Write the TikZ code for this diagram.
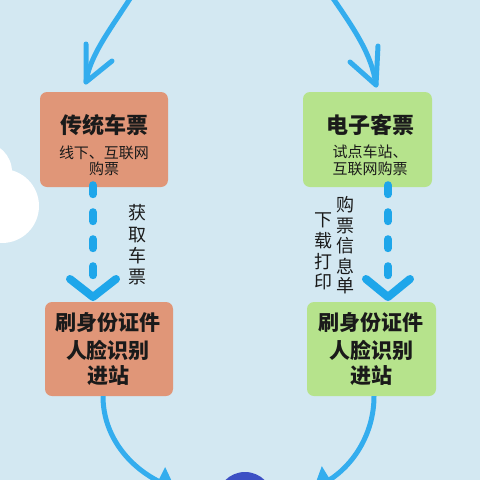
\documentclass[tikz,border=0pt]{standalone}
\usepackage{fontspec}
\newfontfamily\cjk{Noto Sans CJK SC}
\usetikzlibrary{arrows.meta}
\definecolor{bgc}{HTML}{D3E8F2}
\definecolor{salmon}{HTML}{E09678}
\definecolor{lgreen}{HTML}{B6E38C}
\definecolor{arr}{HTML}{33ADEE}
\definecolor{dash}{HTML}{1EA6EA}
\definecolor{dblue}{HTML}{3C50C4}
\definecolor{txt}{HTML}{1A1A1A}
\tikzset{
  box/.style={rounded corners=7pt, inner sep=0pt, draw=none},
  title/.style={font=\cjk\bfseries\fontsize{22}{24}\selectfont, text=txt, inner sep=0pt},
  sub/.style={font=\cjk\fontsize{15}{17}\selectfont, text=txt, inner sep=0pt},
  big/.style={font=\cjk\bfseries\fontsize{21}{23}\selectfont, text=txt, inner sep=0pt},
  vlab/.style={font=\cjk\fontsize{18}{20}\selectfont, text=txt, inner sep=0pt},
  curvearr/.style={draw=arr, line width=5pt, line cap=round},
  chev/.style={draw=arr, line width=5pt, line cap=round, line join=round},
  dashline/.style={draw=dash, line width=8pt, line cap=round, dash pattern=on 9pt off 18pt},
  dchev/.style={draw=dash, line width=8pt, line cap=round, line join=round},
  bottomarr/.style={draw=arr, line width=5pt, -{Triangle[length=20pt,width=30pt]}}
}
\begin{document}
\begin{tikzpicture}[x=1pt,y=-1pt]
\fill[bgc] (0,0) rectangle (480,480);
\useasboundingbox (0,0) rectangle (480,480);
\begin{scope}
\clip (0,0) rectangle (480,480);
% cloud
\fill[white] (-18,172) circle[radius=30];
\fill[white] (2,206) circle[radius=37];
\fill[white] (-20,215) circle[radius=30];
% boxes
\node[box, fill=salmon, minimum width=128pt, minimum height=95pt] (b1) at (104,139.5) {};
\node[box, fill=lgreen, minimum width=129pt, minimum height=95pt] (b2) at (367.5,139.5) {};
\node[box, fill=salmon, minimum width=128pt, minimum height=94pt] (b3) at (109,349) {};
\node[box, fill=lgreen, minimum width=129pt, minimum height=94pt] (b4) at (371.5,349) {};
% texts
\node[title] (t1) at (104,125) {传统车票};
\node[sub] (s1a) at (104,153) {线下、互联网};
\node[sub] (s1b) at (104,169) {购票};
\node[title] (t2) at (370,125) {电子客票};
\node[sub] (s2a) at (370,152) {试点车站、};
\node[sub] (s2b) at (370,169) {互联网购票};
\node[big] (t3a) at (108,323) {刷身份证件};
\node[big] (t3b) at (108,350) {人脸识别};
\node[big] (t3c) at (108,376) {进站};
\node[big] (t4a) at (371,323) {刷身份证件};
\node[big] (t4b) at (371,350) {人脸识别};
\node[big] (t4c) at (371,376) {进站};
% vertical labels
\node[vlab] (l1) at (137,213) {获};
\node[vlab] (l2) at (137,235) {取};
\node[vlab] (l3) at (137,256) {车};
\node[vlab] (l4) at (137,277) {票};
\node[vlab] (r1) at (345,205) {购};
\node[vlab] (r2) at (345,226) {票};
\node[vlab] (r3) at (345,246) {信};
\node[vlab] (r4) at (345,266) {息};
\node[vlab] (r5) at (345,286) {单};
\node[vlab] (q1) at (323,220) {下};
\node[vlab] (q2) at (323,241) {载};
\node[vlab] (q3) at (323,262) {打};
\node[vlab] (q4) at (323,282) {印};
% top curved arrows
\coordinate (ls) at (133,-6);
\coordinate (rs) at (330,-6);
\coordinate (lt) at (86,82);
\coordinate (rt) at (376,85);
\draw[curvearr] (ls) .. controls (110,30) and (90,55) .. (lt);
\draw[chev] (86,44) -- (lt) -- (112,61);
\draw[curvearr] (rs) .. controls (355,30) and (372,55) .. (rt);
\draw[chev] (378,46) -- (rt) -- (350,62);
% dashed arrows
\coordinate (d1e) at (93,297);
\coordinate (d2e) at (388,297);
\draw[dashline] (b1.south -| d1e) ++(0,-2) -- (93,278);
\draw[dchev] (70,279) -- (d1e) -- (116,279);
\draw[dashline] (b2.south -| d2e) ++(0,-2) -- (388,278);
\draw[dchev] (366,279) -- (d2e) -- (410,279);
% bottom curved arrows
\node[circle, fill=dblue, minimum size=56pt, inner sep=0pt] (c) at (245,500) {};
\coordinate (be1) at (176,490);
\coordinate (be2) at (313,490);
\draw[bottomarr] (b3.south -| 103,0) .. controls (103,435) and (128,466) .. (be1);
\draw[bottomarr] (b4.south -| 374,0) .. controls (374,435) and (352,466) .. (be2);
\end{scope}
\end{tikzpicture}
\end{document}
